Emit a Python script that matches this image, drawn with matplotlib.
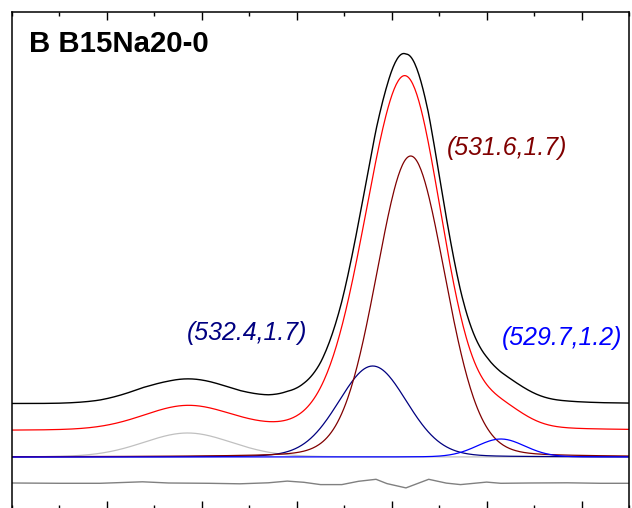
import numpy as np
import matplotlib.pyplot as plt

plt.rcParams['font.family'] = ['Liberation Sans', 'DejaVu Sans']

# fitted components (binding energy, FWHM, height in a.u.)
centers = [536.3, 532.4, 531.6, 529.7]
fwhms = [2.2, 1.7, 1.7, 1.2]
heights = [24, 91, 301, 18]
comp_colors = ['#c0c0c0', '#000080', '#800000', '#0000ff']
lor_frac = 0.1

# residual (data - fit)
res_be = [540.0, 539.0, 538.15, 537.25, 536.7, 535.85, 535.2, 534.6, 534.2, 533.85,
          533.5, 533.05, 532.7, 532.33, 532.1, 531.7, 531.22, 530.85, 530.55, 530.0,
          529.7, 529.1, 528.3, 527.6, 527.0]
res_val = [0.3, 0.0, 0.0, 1.5, 0.3, 0.0, -0.5, 0.5, 2.2, 1.0,
           -1.3, -1.3, 2.0, 4.0, -0.3, -4.6, 4.0, 0.2, -1.3, 1.2,
           0.0, 0.3, 0.5, 0.0, 0.0]

offset = 26.3

labels = ['(532.4,1.7)', '(531.6,1.7)', '(529.7,1.2)']
label_colors = ['#000080', '#800000', '#0000ff']
label_pos = [(536.32, 124), (530.84, 309), (529.68, 119)]


def gl(x, c, w, h):
    g = np.exp(-4 * np.log(2) * (x - c) ** 2 / w ** 2)
    l = 1 / (1 + 4 * (x - c) ** 2 / w ** 2)
    return h * ((1 - lor_frac) * g + lor_frac * l)


be = np.linspace(540, 527, 600)
comps = [gl(be, c, w, h) for c, w, h in zip(centers, fwhms, heights)]
envelope = np.sum(comps, axis=0)
data = envelope + np.interp(be, res_be[::-1], res_val[::-1])

fig = plt.figure(figsize=(6.32, 5.08), dpi=100)
ax = fig.add_axes([12 / 632, -1 / 508, 617 / 632, 497 / 508])

for y, col in zip(comps, comp_colors):
    ax.plot(be, y, color=col, lw=0.9)
ax.plot(be, envelope + offset, color='#ff0000', lw=0.9)
ax.plot(be, data + 2 * offset, color='black', lw=1.0)
ax.plot(res_be, np.array(res_val) - offset, color='#808080', lw=1.0)

for txt, col, (x, y) in zip(labels, label_colors, label_pos):
    ax.text(x, y, txt, color=col, fontsize=17.9, style='italic', ha='left', va='center')

ax.text(0.027, 0.935, 'B B15Na20-0', transform=ax.transAxes, fontsize=21.2,
        fontweight='bold', ha='left', va='center')

ax.set_xlim(540, 527)
ax.set_ylim(-52, 445)
ax.set_xticks(np.arange(528, 540, 2))
ax.set_xticks(np.arange(527, 541, 1), minor=True)
ax.set_yticks([])
ax.tick_params(axis='x', which='both', direction='in', top=True, bottom=True,
               labelbottom=False, width=1.0)
ax.tick_params(axis='x', which='major', length=5.8)
ax.tick_params(axis='x', which='minor', length=2.9)
for s in ax.spines.values():
    s.set_linewidth(1.1)

fig.savefig('out.png', dpi=100)
